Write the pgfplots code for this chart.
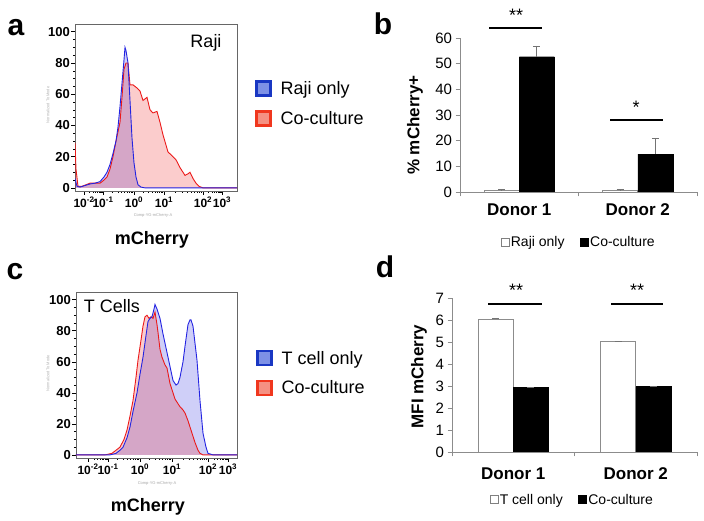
\documentclass[border=0pt]{standalone}
\usepackage{pgfplots}
\pgfplotsset{compat=1.18}
\usepackage{pgfplotstable}
\usepackage{fontspec}
\setmainfont{Liberation Sans}

\definecolor{hb}{RGB}{35,35,225}
\definecolor{hr}{RGB}{235,25,25}
\definecolor{lb}{RGB}{25,55,195}
\definecolor{lbf}{RGB}{125,145,230}
\definecolor{lr}{RGB}{240,55,30}
\definecolor{lrf}{RGB}{245,145,130}

\newcommand{\fs}[1]{\fontsize{#1}{#1}\selectfont}

\pgfplotsset{
  hsq legend/.style={legend image code/.code={\draw[##1, line width=2.5pt] (0pt,-7pt) rectangle (14pt,7pt);}},
  sq legend/.style={legend image code/.code={\draw[##1, line width=0.6pt] (0pt,-4pt) rectangle (8pt,4pt);}},
  hist/.style={
    scale only axis, anchor=south west,
    ymin=-2, ymax=105,
    ytick={0,20,...,100}, minor y tick num=3,
    tick align=outside, major tick length=4pt, minor tick length=2pt,
    tick style={black, line width=0.6pt},
    xtick pos=bottom, ytick pos=left,
    axis line style={black!60, line width=0.8pt},
    /pgf/number format/assume math mode=true,
    yticklabel style={font=\fs{13}\bfseries, inner sep=1pt},
    xticklabel style={font=\fs{12}\bfseries, inner sep=2pt},
    xlabel={mCherry},
    xlabel style={font=\fs{18}\bfseries, anchor=center},
    ylabel={Normalized To Mode},
    ylabel style={font=\fs{4}, text=black!30, anchor=center},
    legend cell align=left,
    legend style={draw=none, fill=none, font=\fs{18}, row sep=11pt, anchor=west, inner sep=0pt,
      /tikz/every odd column/.append style={column sep=7pt}},
  },
  bars/.style={
    scale only axis, anchor=south west,
    xmin=0, xmax=2, enlargelimits=false,
    axis x line=bottom, axis y line=left,
    axis line style={black!45, line width=0.7pt, -},
    tick align=outside, major tick length=4.5pt,
    tick style={black!45, line width=0.7pt},
    xtick={0,1,2}, xticklabels={},
    extra x ticks={0.5,1.5}, extra x tick labels={Donor 1,Donor 2},
    extra x tick style={major tick length=0pt, tick label style={font=\fs{17}\bfseries}},
    /pgf/number format/assume math mode=true,
    yticklabel style={font=\fs{15}},
    ylabel style={font=\fs{17}\bfseries, anchor=center},
    legend columns=2,
    legend style={draw=none, fill=none, anchor=center, font=\fs{14}, inner sep=0pt,
      nodes={inner sep=1.5pt},
      /tikz/every even column/.append style={column sep=14pt}},
  },
  ebar/.style={error bars/.cd, y dir=plus, y explicit, error bar style={black!55, line width=0.6pt},
    error mark options={rotate=90, mark size=3.5pt, black!55, line width=0.6pt}},
}

% panel a (x: position along the biexponential mCherry scale, y: % of max)
\pgfplotstableread{
x y
0 6
2 1
5 0.5
10 1.5
15 2.5
20 3
25 4
29 7
32 10
35 15
38 22
41 30
43 39
45 52
47 67
49 82
50 90
51 88
53 80
55 56
57 32
59 16
61 7
63 2
66 0.5
70 0
162 0
}\rajiblue
\pgfplotstableread{
x y
0 29
1 12
3 1
7 1
11 2
15 3
20 3
25 3
29 5
32 7
35 12
38 20
41 30
45 42
47 58
49 76
51 80
53 80
55 66
58 66
62 64
65 62
68 56
72 58
75 50
78 48
82 49
85 42
88 34
93 23
98 20
101 18
105 13
110 8
113 9
115 10
118 6
121 3
124 1
128 0
162 0
}\rajired
% panel c
\pgfplotstableread{
x y
0 0
34 0
40 1
44 3
47 5
51 11
54 18
57 28
61 40
64 52
67 63
70 77
72 86
74 88
76 89
78 94
79 97
81 94
82 92
84 88
87 78
89 72
92 63
94 57
97 48
100 45
102 46
104 50
107 60
109 70
112 84
114 87
115 87
117 83
119 72
121 61
124 35
127 14
130 5
132 1
137 0
161 0
}\tblue
\pgfplotstableread{
x y
0 0
29 0
36 1
40 3
44 5
48 10
51 16
54 25
57 35
60 50
62 61
65 74
67 83
69 89
71 90
73 88
75 89
77 88
79 92
81 84
82 79
84 68
86 63
89 58
91 56
94 46
97 40
99 36
102 33
104 31
107 29
109 27
112 22
114 18
117 12
119 8
122 3
124 1
127 0
161 0
}\tred

\begin{document}
\begin{tikzpicture}[x=1pt,y=1pt]
\useasboundingbox (0,0) rectangle (704,521);

% ---------- a ----------
\begin{axis}[hist, at={(75pt,330pt)}, width=162pt, height=167pt,
  xmin=0, xmax=162,
  xtick={9,28,59,89,128,147},
  xticklabels={10\textsuperscript{-2},10\textsuperscript{-1},10\textsuperscript{0},10\textsuperscript{1},10\textsuperscript{2},10\textsuperscript{3}},
  minor xtick={14.7,18.1,20.4,22.3,23.8,25.1,26.2,27.1,37.3,42.8,46.7,49.7,52.1,54.2,56.0,57.6,68.0,73.3,77.1,80.0,82.3,84.4,86.1,87.6,100.7,107.6,112.5,116.3,119.3,122.0,124.2,126.2,133.7,137.1,139.4,141.3,142.8,144.1,145.2,146.1},
  xlabel style={at={(0.475,-0.293)}},
  ylabel style={at={(-0.167,0.515)}},
  legend style={at={(1.111,0.524)}}]
\addplot[draw=none, fill=hb, fill opacity=0.22, forget plot] table {\rajiblue} \closedcycle;
\addplot[draw=none, fill=hr, fill opacity=0.22, forget plot] table {\rajired} \closedcycle;
\addplot[hr, line width=0.9pt, forget plot] table {\rajired};
\addplot[hb, line width=0.9pt, forget plot] table {\rajiblue};
\addlegendimage{hsq legend, draw=lb, fill=lbf}
\addlegendentry{Raji only}
\addlegendimage{hsq legend, draw=lr, fill=lrf}
\addlegendentry{Co-culture}
\end{axis}

% ---------- c ----------
\begin{axis}[hist, at={(76pt,63pt)}, width=161pt, height=166pt,
  xmin=0, xmax=161,
  xtick={12,32,64,96,132,152},
  xticklabels={10\textsuperscript{-2},10\textsuperscript{-1},10\textsuperscript{0},10\textsuperscript{1},10\textsuperscript{2},10\textsuperscript{3}},
  minor xtick={18.0,21.5,24.0,26.0,27.6,28.9,30.1,31.1,41.6,47.3,51.3,54.4,56.9,59.0,60.9,62.5,73.6,79.3,83.3,86.4,88.9,91.0,92.9,94.5,106.8,113.2,117.7,121.2,124.0,126.4,128.5,130.3,138.0,141.5,144.0,146.0,147.6,148.9,150.1,151.1},
  xlabel style={at={(0.447,-0.295)}},
  ylabel style={at={(-0.174,0.51)}},
  legend style={at={(1.118,0.512)}}]
\addplot[draw=none, fill=hb, fill opacity=0.22, forget plot] table {\tblue} \closedcycle;
\addplot[draw=none, fill=hr, fill opacity=0.22, forget plot] table {\tred} \closedcycle;
\addplot[hr, line width=0.9pt, forget plot] table {\tred};
\addplot[hb, line width=0.9pt, forget plot] table {\tblue};
\addlegendimage{hsq legend, draw=lb, fill=lbf}
\addlegendentry{T cell only}
\addlegendimage{hsq legend, draw=lr, fill=lrf}
\addlegendentry{Co-culture}
\end{axis}

% ---------- b ----------
\begin{axis}[bars, at={(460pt,329pt)}, width=237pt, height=154pt,
  ymin=0, ymax=60, ytick={0,10,...,60},
  ylabel={\% mCherry+}, ylabel style={at={(-0.19,0.435)}},
  extra x tick style={tick label style={yshift=-8pt}},
  legend style={at={(0.5,-0.325)}}]
\addplot[ybar, bar width=35pt, bar shift=0pt, fill=white, draw=black!45, line width=0.6pt, forget plot, ebar]
  coordinates {(0.352,0.5) +- (0,0.6) (1.352,0.5) +- (0,0.5)};
\addplot[ybar, bar width=35pt, bar shift=0pt, fill=black, draw=black, forget plot, ebar]
  coordinates {(0.648,52.7) +- (0,4.2) (1.648,14.8) +- (0,6.3)};
\addlegendimage{sq legend, fill=white, draw=black!50}
\addlegendentry{Raji only}
\addlegendimage{sq legend, fill=black, draw=black}
\addlegendentry{Co-culture}
\end{axis}

% ---------- d ----------
\begin{axis}[bars, at={(452pt,69pt)}, width=245pt, height=154pt,
  ymin=0, ymax=7, ytick={0,1,...,7},
  ylabel={MFI mCherry}, ylabel style={at={(-0.135,0.49)}},
  extra x tick style={tick label style={yshift=-12pt}},
  legend style={at={(0.49,-0.31)}}]
\addplot[ybar, bar width=35pt, bar shift=0pt, fill=white, draw=black!45, line width=0.6pt, forget plot, ebar]
  coordinates {(0.357,6.05) +- (0,0.04) (1.357,5.02) +- (0,0.01)};
\addplot[ybar, bar width=35pt, bar shift=0pt, fill=black, draw=black, forget plot, ebar]
  coordinates {(0.643,2.95) +- (0,0.01) (1.643,2.97) +- (0,0.03)};
\addlegendimage{sq legend, fill=white, draw=black!50}
\addlegendentry{T cell only}
\addlegendimage{sq legend, fill=black, draw=black}
\addlegendentry{Co-culture}
\end{axis}

% ---------- annotations (pixel coordinates, y downward) ----------
\begin{scope}[shift={(0,521)}, y=-1pt]
  \node[font=\fs{30}\bfseries, anchor=base] at (16,36) {a};
  \node[font=\fs{30}\bfseries, anchor=base] at (383,35) {b};
  \node[font=\fs{30}\bfseries, anchor=base] at (15,280) {c};
  \node[font=\fs{30}\bfseries, anchor=base] at (385,278) {d};
  \node[font=\fs{18}, anchor=base] at (206,48) {Raji};
  \node[font=\fs{18}, anchor=base] at (112,313) {T Cells};
  \node[font=\fs{4}, text=black!35] at (153,215) {Comp-YG-mCherry-A};
  \node[font=\fs{4}, text=black!35] at (157,483) {Comp-YG-mCherry-A};
  % significance bars
  \draw[line width=1.5pt] (489,28) -- (542,28);
  \node[font=\fs{18}, anchor=base] at (516,22) {**};
  \draw[line width=1.5pt] (610,120) -- (663,120);
  \node[font=\fs{18}, anchor=base] at (636,114) {*};
  \draw[line width=1.5pt] (488,304) -- (542,304);
  \node[font=\fs{18}, anchor=base] at (516,297) {**};
  \draw[line width=1.5pt] (611,304) -- (663,304);
  \node[font=\fs{18}, anchor=base] at (637,297) {**};
\end{scope}
\end{tikzpicture}
\end{document}
